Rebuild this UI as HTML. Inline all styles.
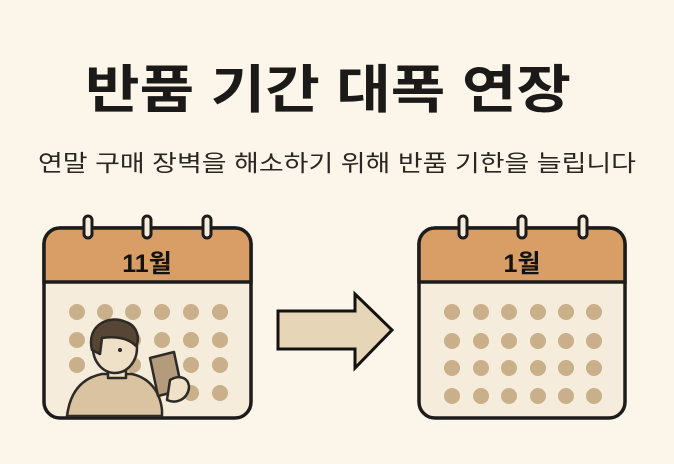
<!DOCTYPE html>
<html><head><meta charset="utf-8"><style>
html,body{margin:0;padding:0;background:#fbf5ea;}
svg{display:block}
</style></head><body>
<svg width="674" height="464" viewBox="0 0 674 464" xmlns="http://www.w3.org/2000/svg" font-family="'Liberation Sans','Noto Sans CJK KR',sans-serif">
<rect width="674" height="464" fill="#fbf5ea"/>
<text x="328" y="108" font-size="52" font-weight="bold" fill="#1c1a18" text-anchor="middle" textLength="486" lengthAdjust="spacingAndGlyphs">반품 기간 대폭 연장</text>
<text x="337" y="171" font-size="23" fill="#2a2622" text-anchor="middle" textLength="598" lengthAdjust="spacingAndGlyphs">연말 구매 장벽을 해소하기 위해 반품 기한을 늘립니다</text>

<!-- left calendar -->
<g>
<rect x="44" y="228" width="207" height="190" rx="16" fill="#f5ecdb" stroke="#1e1c1a" stroke-width="3.5"/>
<path d="M60 228 H235 A16 16 0 0 1 251 244 V282 H44 V244 A16 16 0 0 1 60 228Z" fill="#d99e66" stroke="#1e1c1a" stroke-width="3.5"/>
<g fill="#f5ecdb" stroke="#1e1c1a" stroke-width="3">
<rect x="84" y="216" width="8" height="22" rx="4"/><rect x="143" y="216" width="8" height="22" rx="4"/><rect x="203" y="216" width="8" height="22" rx="4"/>
</g>
<text x="147" y="272" font-size="25" font-weight="bold" fill="#141210" text-anchor="middle">11월</text>
<g fill="#c9af8a">
<circle cx="77" cy="312" r="8"/><circle cx="105" cy="312" r="8"/><circle cx="133" cy="312" r="8"/><circle cx="162" cy="312" r="8"/><circle cx="191" cy="312" r="8"/><circle cx="220" cy="312" r="8"/>
<circle cx="77" cy="340" r="8"/><circle cx="133" cy="340" r="8"/><circle cx="162" cy="340" r="8"/><circle cx="191" cy="340" r="8"/><circle cx="220" cy="340" r="8"/>
<circle cx="77" cy="365" r="8"/><circle cx="133" cy="365" r="8"/><circle cx="191" cy="365" r="8"/><circle cx="220" cy="365" r="8"/>
<circle cx="191" cy="393" r="8"/><circle cx="220" cy="393" r="8"/>
</g>
<!-- person -->
<g stroke="#2e2a25" stroke-width="2.5" stroke-linejoin="round">
<path d="M67 416 C70 392 82 378 102 374 L132 374 C150 378 160 392 162 410 L162 416Z" fill="#d9c3a0"/>
<path d="M108 360 L108 378 L126 378 L126 360Z" fill="#efe0c8"/>
<ellipse cx="115" cy="348" rx="22" ry="25" fill="#efe0c8"/>
<path d="M92 350 C86 326 108 314 126 322 C138 326 140 340 136 346 C128 338 116 336 102 338 L100 354Z" fill="#574636"/>
<path d="M150 358 L174 352 L182 390 L158 396Z" fill="#b39b7b"/>
<path d="M170 380 C180 374 189 378 189 388 C187 400 176 404 167 400Z" fill="#efe0c8"/>
</g>
<circle cx="120" cy="350" r="2" fill="#2e2a25"/>
</g>

<!-- arrow -->
<path d="M278 311 H355 V294 L392 330 L355 368 V349 H278Z" fill="#e6d5b6" stroke="#141210" stroke-width="3" stroke-linejoin="miter"/>

<!-- right calendar -->
<g>
<rect x="419" y="228" width="206" height="190" rx="16" fill="#f5ecdb" stroke="#1e1c1a" stroke-width="3.5"/>
<path d="M435 228 H609 A16 16 0 0 1 625 244 V282 H419 V244 A16 16 0 0 1 435 228Z" fill="#d99e66" stroke="#1e1c1a" stroke-width="3.5"/>
<g fill="#f5ecdb" stroke="#1e1c1a" stroke-width="3">
<rect x="459" y="216" width="8" height="22" rx="4"/><rect x="518" y="216" width="8" height="22" rx="4"/><rect x="579" y="216" width="8" height="22" rx="4"/>
</g>
<text x="522" y="272" font-size="25" font-weight="bold" fill="#141210" text-anchor="middle">1월</text>
<g fill="#c9af8a">
<circle cx="452" cy="312" r="8"/><circle cx="481" cy="312" r="8"/><circle cx="509" cy="312" r="8"/><circle cx="538" cy="312" r="8"/><circle cx="566" cy="312" r="8"/><circle cx="594" cy="312" r="8"/>
<circle cx="452" cy="341" r="8"/><circle cx="481" cy="341" r="8"/><circle cx="509" cy="341" r="8"/><circle cx="538" cy="341" r="8"/><circle cx="566" cy="341" r="8"/><circle cx="594" cy="341" r="8"/>
<circle cx="452" cy="368" r="8"/><circle cx="481" cy="368" r="8"/><circle cx="509" cy="368" r="8"/><circle cx="538" cy="368" r="8"/><circle cx="566" cy="368" r="8"/><circle cx="594" cy="368" r="8"/>
<circle cx="452" cy="396" r="8"/><circle cx="481" cy="396" r="8"/><circle cx="509" cy="396" r="8"/><circle cx="538" cy="396" r="8"/><circle cx="566" cy="396" r="8"/><circle cx="594" cy="396" r="8"/>
</g>
</g>
</svg>
</body></html>
